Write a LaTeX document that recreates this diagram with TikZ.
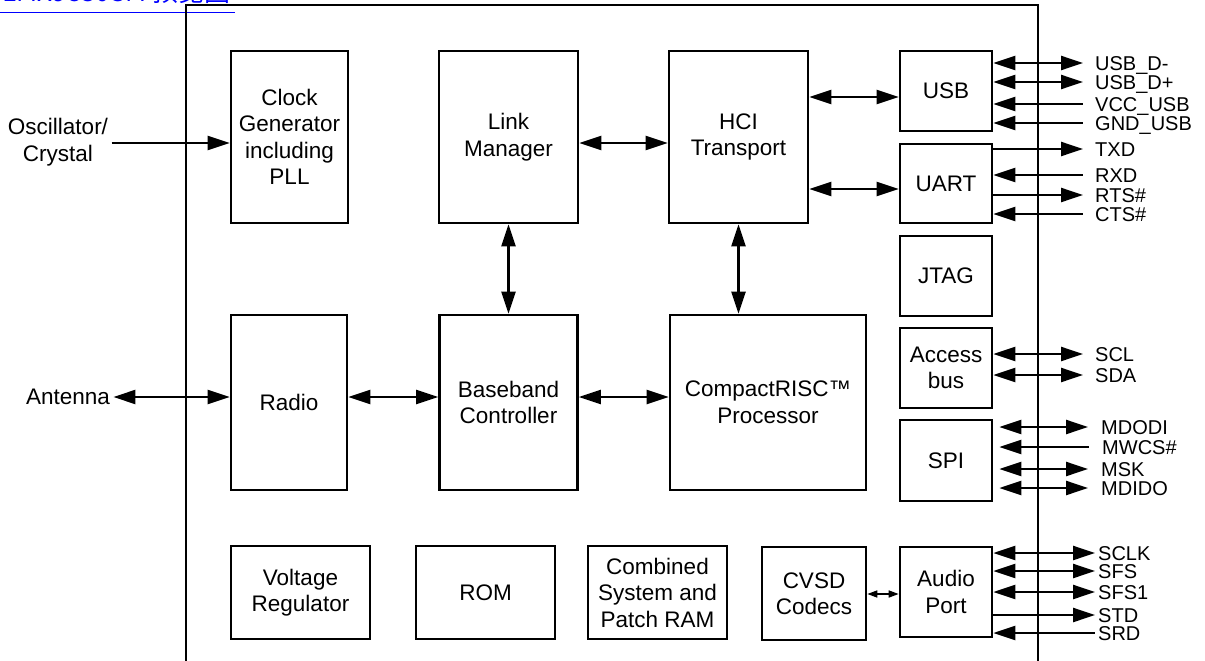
\documentclass[tikz,border=0pt]{standalone}
\usepackage{fontspec}
\setmainfont{Liberation Sans}
\newfontfamily\cjk{Noto Sans CJK SC}
\usepackage{tikz}
\usetikzlibrary{arrows.meta}
\definecolor{linkblue}{HTML}{0000FF}

\begin{document}
\begin{tikzpicture}[x=1pt, y=-1pt,
  >={Triangle[length=22pt,width=14pt]},
  blk/.style={draw, line width=2.6pt, align=center, inner sep=0pt,
    font=\fontsize{22.5}{26.5}\selectfont},
  txt/.style={align=center, font=\fontsize{22.5}{26.5}\selectfont},
  wire/.style={line width=2.4pt},
  sig/.style={anchor=west, inner ysep=0pt, inner xsep=12pt, text height=14.3pt,
    text depth=0pt, font=\fontsize{20}{20}\selectfont}]
\useasboundingbox (0,0) rectangle (1205,661);

% link caption, cut by the page edge
\node[anchor=base east, inner sep=0pt, text=linkblue, font=\cjk\fontsize{26}{26}\selectfont]
  (link) at (231,2) {LMX9830SM 预览图};
\draw[linkblue, line width=1.6pt] (0,12.5) -- (link.east |- 0,12.5) -- ++(4,0);

% chip outline
\draw[line width=2.2pt] (186,670) -- (186,5) -- (1038,5) -- (1038,670);

% core blocks
\node[blk, minimum width=117pt, minimum height=172pt] (clk) at (289.5,137) {Clock\\Generator\\including\\PLL};
\node[blk, minimum width=139pt, minimum height=172pt] (lm) at (508.5,137) {Link\\Manager};
\node[blk, minimum width=139pt, minimum height=172pt] (hci) at (738.5,137) {HCI\\Transport};
\node[blk, minimum width=116pt, minimum height=175pt] (radio) at (289,402.5) {Radio};
\node[blk, minimum width=138pt, minimum height=175pt] (bb) at (508.5,402.5) {Baseband\\Controller};
\node[blk, minimum width=196pt, minimum height=175pt] (cpu) at (768,402.5) {CompactRISC™\\Processor};

% memory and support blocks
\node[blk, minimum width=139pt, minimum height=93pt] (vreg) at (300.5,592.5) {Voltage\\Regulator};
\node[blk, minimum width=139pt, minimum height=93pt] (rom) at (485.5,592.5) {ROM};
\node[blk, minimum width=139pt, minimum height=93pt] (ram) at (657.5,592.5) {Combined\\System and\\Patch RAM};
\node[blk, minimum width=104pt, minimum height=93pt] (cvsd) at (814,593.5) {CVSD\\Codecs};

% interface blocks
\node[blk, minimum width=92pt, minimum height=80pt] (usb) at (946,91) {USB};
\node[blk, minimum width=92pt, minimum height=79pt] (uart) at (946,183.5) {UART};
\node[blk, minimum width=92pt, minimum height=80pt] (jtag) at (946,276) {JTAG};
\node[blk, minimum width=92pt, minimum height=80pt] (acc) at (946,368) {Access\\bus};
\node[blk, minimum width=92pt, minimum height=81pt] (spi) at (946,460.5) {SPI};
\node[blk, minimum width=92pt, minimum height=90pt] (audio) at (946,592) {Audio\\Port};

% outside labels
\node[txt] (osc) at (58,142) {Oscillator/\\Crystal};
\node[txt] (ant) at (68,397) {Antenna};

% internal connections
\draw[wire, ->] (osc.east |- 0,143) -- (clk.west |- 0,143);
\draw[wire, <->] (ant.east |- 0,397) -- (radio.west |- 0,397);
\draw[wire, <->] (lm.east |- 0,143) -- (hci.west |- 0,143);
\draw[wire, <->] (hci.east |- 0,97) -- (usb.west |- 0,97);
\draw[wire, <->] (hci.east |- 0,189) -- (uart.west |- 0,189);
\draw[wire, <->] (lm.south) -- (lm.south |- bb.north);
\draw[wire, <->] (hci.south) -- (hci.south |- cpu.north);
\draw[wire, <->] (radio.east |- 0,397) -- (bb.west |- 0,397);
\draw[wire, <->] (bb.east |- 0,397) -- (cpu.west |- 0,397);
\draw[line width=1.6pt, {Triangle[length=10pt,width=7pt]}-{Triangle[length=10pt,width=7pt]}]
  (cvsd.east |- 0,594) -- (audio.west |- 0,594);

% USB pins
\node[sig] (usbdm) at (1083,63) {USB\_D-};
\node[sig] (usbdp) at (1083,82) {USB\_D+};
\node[sig] (vccusb) at (1083,104) {VCC\_USB};
\node[sig] (gndusb) at (1083,123) {GND\_USB};
\draw[wire, <->] (usb.east |- usbdm.west) -- (usbdm.west);
\draw[wire, <->] (usb.east |- usbdp.west) -- (usbdp.west);
\draw[wire, <-] (usb.east |- vccusb.west) -- (vccusb.west);
\draw[wire, <-] (usb.east |- gndusb.west) -- (gndusb.west);

% UART pins
\node[sig] (txd) at (1083,149) {TXD};
\node[sig] (rxd) at (1083,175) {RXD};
\node[sig] (rts) at (1083,195) {RTS\#};
\node[sig] (cts) at (1083,214) {CTS\#};
\draw[wire, ->] (uart.east |- txd.west) -- (txd.west);
\draw[wire, <-] (uart.east |- rxd.west) -- (rxd.west);
\draw[wire, ->] (uart.east |- rts.west) -- (rts.west);
\draw[wire, <-] (uart.east |- cts.west) -- (cts.west);

% Access bus pins
\node[sig] (scl) at (1083,354) {SCL};
\node[sig] (sda) at (1083,375) {SDA};
\draw[wire, <->] (acc.east |- scl.west) -- (scl.west);
\draw[wire, <->] (acc.east |- sda.west) -- (sda.west);

% SPI pins
\node[sig, inner xsep=13pt] (mdodi) at (1088,427) {MDODI};
\node[sig, inner xsep=13pt] (mwcs) at (1089,447) {MWCS\#};
\node[sig, inner xsep=13pt] (msk) at (1088,469) {MSK};
\node[sig, inner xsep=13pt] (mdido) at (1088,488) {MDIDO};
\draw[wire, <->, shorten <=6pt] (spi.east |- mdodi.west) -- (mdodi.west);
\draw[wire, <-, shorten <=6pt] (spi.east |- mwcs.west) -- (mwcs.west);
\draw[wire, <->, shorten <=6pt] (spi.east |- msk.west) -- (msk.west);
\draw[wire, <->, shorten <=6pt] (spi.east |- mdido.west) -- (mdido.west);

% Audio pins
\node[sig, inner xsep=3pt] (sclk) at (1095,553) {SCLK};
\node[sig, inner xsep=3pt] (sfs) at (1095,571) {SFS};
\node[sig, inner xsep=3pt] (sfsone) at (1095,592) {SFS1};
\node[sig, inner xsep=3pt] (std) at (1095,615) {STD};
\node[sig, inner xsep=3pt] (srd) at (1095,633) {SRD};
\draw[wire, <->] (audio.east |- sclk.west) -- (sclk.west);
\draw[wire, <->] (audio.east |- sfs.west) -- (sfs.west);
\draw[wire, <->] (audio.east |- sfsone.west) -- (sfsone.west);
\draw[wire, ->] (audio.east |- std.west) -- (std.west);
\draw[wire, <-] (audio.east |- srd.west) -- (srd.west);
\end{tikzpicture}
\end{document}
